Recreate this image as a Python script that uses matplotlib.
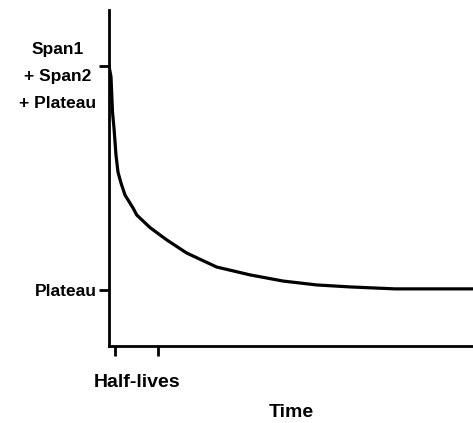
import matplotlib
matplotlib.use("Agg")
import matplotlib.pyplot as plt
from matplotlib.transforms import ScaledTranslation

# curve (time in arbitrary units, response in %)
time = [0, 0.055, 0.096, 0.137, 0.192, 0.247, 0.330, 0.44, 0.66, 0.761,
        1.126, 1.585, 2.135, 2.959, 3.874, 4.78, 5.71, 6.62, 7.86, 10.0]
response = [100, 96.1, 83.6, 77.9, 68.2, 62.1, 58.2, 53.9, 49.3, 46.8,
            42.3, 37.9, 33.2, 28.2, 25.4, 23.2, 21.8, 21.1, 20.4, 20.4]

half_lives = [0.165, 1.35]
y_ticks = [20, 100]
y_tick_labels = ["Plateau", "Span1\n+ Span2\n+ Plateau"]

plt.rcParams['font.family'] = ['Liberation Sans', 'DejaVu Sans']
plt.rcParams['font.weight'] = 'bold'

fig = plt.figure(figsize=(4.73, 4.23), dpi=100)
ax = fig.add_axes([109 / 473, 77 / 423, 364 / 473, 336 / 423])

ax.plot(time, response, color="black", lw=2.3, solid_joinstyle="round")

ax.set_xlim(0, 10)
ax.set_ylim(0, 120)
for s in ["top", "right"]:
    ax.spines[s].set_visible(False)
for s in ["left", "bottom"]:
    ax.spines[s].set_linewidth(2)

ax.set_xticks(half_lives)
ax.set_xticklabels([])
ax.set_yticks(y_ticks)
ax.set_yticklabels(y_tick_labels, fontsize=12.5, multialignment="center", linespacing=2.0)
ax.tick_params(length=7, width=2, pad=2)
# the top label block sits a little below its tick in the original
top_lbl = ax.get_yticklabels()[1]
top_lbl.set_transform(top_lbl.get_transform() + ScaledTranslation(0, -3 / 100, fig.dpi_scale_trans))

ax.text(sum(half_lives) / 2, -0.11, "Half-lives", transform=ax.get_xaxis_transform(),
        ha="center", va="center", fontsize=14, fontweight="bold")
ax.set_xlabel("Time", fontsize=14, fontweight="bold", labelpad=33)

fig.savefig("out.png", dpi=100)
